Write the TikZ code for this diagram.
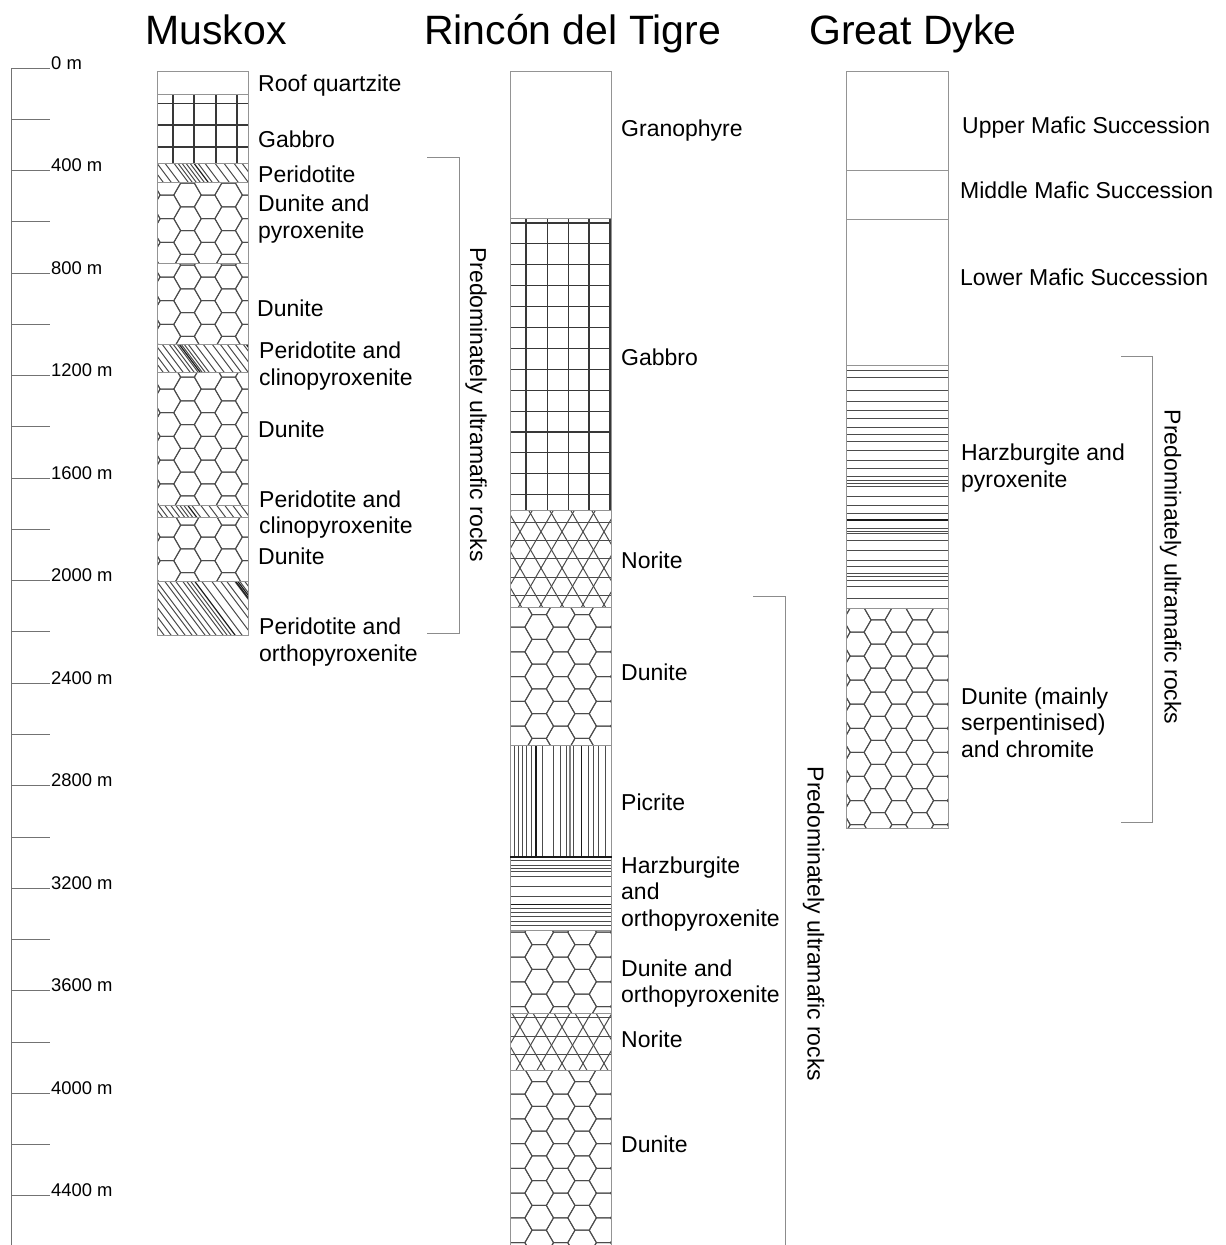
\documentclass[tikz,border=0pt]{standalone}
\usepackage{fontspec}
\setmainfont{Liberation Sans}
\newcommand\mls[1]{\begin{tabular}[t]{@{}l@{}}#1\end{tabular}}
% honeycomb fill: x1 y1 x2 y2 r xc yc
\newcommand\hexfill[7]{%
  \begin{scope}
    \clip (#1,#2) rectangle (#3,#4);
    \pgfmathsetmacro\hxr{#5}
    \pgfmathsetmacro\hxh{1.7320508*#5}
    \pgfmathtruncatemacro\hximin{floor((#1-#6)/(1.5*#5))-1}
    \pgfmathtruncatemacro\hximax{ceil((#3-#6)/(1.5*#5))+1}
    \pgfmathtruncatemacro\hxjmin{floor((#2-#7)/\hxh)-1}
    \pgfmathtruncatemacro\hxjmax{ceil((#4-#7)/\hxh)+1}
    \foreach \i in {\hximin,...,\hximax}{
      \foreach \j in {\hxjmin,...,\hxjmax}{
        \pgfmathsetmacro\hxcx{#6+1.5*#5*\i}
        \pgfmathsetmacro\hxcy{#7+\hxh*\j+((mod(\i+100,2)==1)?0.5*\hxh:0)}
        \draw[pat] ({\hxcx+\hxr},{\hxcy}) -- ({\hxcx+0.5*\hxr},{\hxcy+0.5*\hxh})
          -- ({\hxcx-0.5*\hxr},{\hxcy+0.5*\hxh}) -- ({\hxcx-\hxr},{\hxcy})
          -- ({\hxcx-0.5*\hxr},{\hxcy-0.5*\hxh}) -- ({\hxcx+0.5*\hxr},{\hxcy-0.5*\hxh}) -- cycle;
      }
    }
  \end{scope}}
% norite (triangular lattice): x1 y1 x2 y2 a x0 y0
\newcommand\noritefill[7]{%
  \begin{scope}
    \clip (#1,#2) rectangle (#3,#4);
    \pgfmathsetmacro\nda{0.57735*(#2-#7)}
    \pgfmathsetmacro\ndb{0.57735*(#4-#7)}
    \foreach \k in {-6,...,10}{
      \pgfmathsetmacro\nxa{#6+\k*#5}
      \draw[pat] ({\nxa+\nda},#2) -- ({\nxa+\ndb},#4);
      \draw[pat] ({\nxa-\nda},#2) -- ({\nxa-\ndb},#4);
    }
    \foreach \k in {-8,...,8}{
      \pgfmathsetmacro\nya{#7+0.4330127*#5+\k*0.8660254*#5}
      \draw[pat] (#1,\nya) -- (#3,\nya);
    }
  \end{scope}}
% diagonal hatch: x1 y1 x2 y2 {light offsets} {dark offsets}
\newcommand\diaghatch[6]{%
  \begin{scope}
    \clip (#1,#2) rectangle (#3,#4);
    \pgfmathsetmacro\dhs{0.75*#4-0.75*#2}
    \foreach \u in {#5}{\draw[pat] ({#1+\u},#2) -- ({#1+\u+\dhs},#4);}
    \foreach \u in {#6}{\draw[dark] ({#1+\u},#2) -- ({#1+\u+\dhs},#4);}
  \end{scope}}
\begin{document}
\begin{tikzpicture}[x=1pt,y=-1pt,
  outline/.style={draw=black!42,line width=1pt},
  pat/.style={draw=black!70,line width=1pt},
  gridl/.style={draw=black!78,line width=1.15pt},
  dark/.style={draw=black!90,line width=1.2pt},
  thickgray/.style={draw=black!50,line width=2.6pt},
  lbl/.style={anchor=base west,inner sep=0pt,font=\fontsize{23}{26.5}\selectfont},
  ttl/.style={anchor=base,inner sep=0pt,font=\fontsize{41}{48}\selectfont},
  scl/.style={anchor=base west,inner sep=0pt,font=\fontsize{18.4}{22}\selectfont},
  tickl/.style={draw=black!55,line width=1pt},
  brk/.style={draw=black!45,line width=1pt},
  rotl/.style={anchor=base,inner sep=0pt,rotate=-90,font=\fontsize{23}{26.5}\selectfont}]
\useasboundingbox (0,0) rectangle (1226,1245);

% ---------------- titles
\node[ttl] (t1) at (216,44) {Muskox};
\node[ttl] (t2) at (572.5,44) {Rincón del Tigre};
\node[ttl] (t3) at (913,44) {Great Dyke};

% ---------------- depth scale
\draw[tickl] (11,68) -- (11,1246);
\foreach \k in {0,...,22}{\draw[tickl] (11,{68+\k*51.27}) -- (50,{68+\k*51.27});}
\foreach \k/\t in {0/0 m,2/400 m,4/800 m,6/1200 m,8/1600 m,10/2000 m,12/2400 m,14/2800 m,16/3200 m,18/3600 m,20/4000 m,22/4400 m}{
  \node[scl] (s\k) at (51,{69+\k*51.27}) {\t};}

% ================= MUSKOX column (x 157 - 248.5)
\begin{scope}
  \clip (157,94.3) rectangle (248.5,163.3);
  \foreach \x in {173,194,216,237}{\draw[gridl] (\x,94.3) -- (\x,163.3);}
  \foreach \y in {103.3,125,147}{\draw[gridl] (157,\y) -- (248.5,\y);}
\end{scope}
\diaghatch{157}{163.3}{248.5}{182.3}{-14,-8,0,8,17,21,25,29,33,41,48,58,67,77,85}{37}
\hexfill{157}{182.3}{248.5}{263.3}{13.7}{187.5}{195}
\hexfill{157}{263.3}{248.5}{344}{13.7}{187.5}{277}
\diaghatch{157}{344}{248.5}{372.3}{-21,-15,-9,-2,5,12,16,20,24,27,31,38,46,55,63,70,78,86,90}{22,89}
\hexfill{157}{372.3}{248.5}{505.7}{13.7}{187.5}{389}
\diaghatch{157}{505.7}{248.5}{517.3}{-8,-3,2,8,14,19,23,27,35,44,52,60,68,76,84}{31}
\hexfill{157}{517.3}{248.5}{581.7}{13.7}{187.5}{537}
\diaghatch{157}{581.7}{248.5}{635.7}{-40,-33,-26,-19,-12,-5,0,8,13,19,26,30,34,45,55,64,70,78,83,88}{38,79,81}
\draw[outline] (157,71.7) rectangle (248.5,635.7);
\foreach \y in {94.3,163.3,182.3,263.3,344,372.3,505.7,517.3,581.7}{\draw[outline] (157,\y) -- (248.5,\y);}

% ================= RINCON column (x 510 - 611.7)
\begin{scope}
  \clip (510,218.3) rectangle (611.7,510);
  \foreach \x in {526,547.3,568.3,589,610}{\draw[gridl] (\x,218.3) -- (\x,510);}
  \foreach \k in {0,...,13}{\draw[gridl] (510,{223+\k*20.9}) -- (611.7,{223+\k*20.9});}
\end{scope}
\noritefill{510}{510}{611.7}{607.7}{21}{520}{531.7}
\hexfill{510}{607.7}{611.7}{745}{14.3}{539.2}{627}
\begin{scope}
  \clip (510,745) rectangle (611.7,856.7);
  \foreach \x in {514.3,518.3,522.3,526,531,542.7,553.3,560,566.7,573.3,588.3,593.3,598.3,605}{\draw[pat] (\x,745) -- (\x,856.7);}
  \foreach \x in {536,581.7}{\draw[dark] (\x,745) -- (\x,856.7);}
  \draw[thickgray] (570,745) -- (570,856.7);
\end{scope}
\begin{scope}
  \clip (510,856.7) rectangle (611.7,930);
  \foreach \y in {860.7,865,868.3,871.7,876.7,886.7,896.7,908.3,912.7,916.7,921.7,925}{\draw[pat] (510,\y) -- (611.7,\y);}
  \draw[dark] (510,904.3) -- (611.7,904.3);
\end{scope}
\hexfill{510}{930}{611.7}{1013.3}{14.3}{539.2}{957}
\noritefill{510}{1013.3}{611.7}{1070}{21}{520}{1027}
\hexfill{510}{1070}{611.7}{1246}{14.3}{539.2}{1094}
\draw[outline] (510,1246) -- (510,71) -- (611.7,71) -- (611.7,1246);
\foreach \y in {218.3,510,607.7,745,930,1013.3,1070}{\draw[outline] (510,\y) -- (611.7,\y);}
\draw[dark,line width=2pt] (510,856.7) -- (611.7,856.7);

% ================= GREAT DYKE column (x 846.7 - 948.3)
\begin{scope}
  \clip (846.7,365) rectangle (948.3,608.3);
  \foreach \y in {370,377.7,390,401.7,410,418.3,427.3,434.3,441.7,450,460,468.3,476.7,480,483.3,486.7,496.7,505,513.3,528.3,531.7,533.3,540,550,560,566.7,573.3,576.7,580,586.7,598.3}{\draw[pat] (846.7,\y) -- (948.3,\y);}
  \draw[dark] (846.7,520) -- (948.3,520);
\end{scope}
\hexfill{846.7}{608.3}{948.3}{828.3}{13.9}{878}{632}
\draw[outline] (846.7,71.7) rectangle (948.3,828.3);
\foreach \y in {170,219,365,608.3}{\draw[outline] (846.7,\y) -- (948.3,\y);}

% ---------------- labels Muskox
\node[lbl] (mrq) at (258,91.5) {Roof quartzite};
\node[lbl] (mgb) at (258,147) {Gabbro};
\node[lbl] (mpd) at (258,182.5) {Peridotite};
\node[lbl] (mdp) at (258,211.5) {\mls{Dunite and\\pyroxenite}};
\node[lbl] (md1) at (257,316) {Dunite};
\node[lbl] (mpc1) at (259,358.5) {\mls{Peridotite and\\clinopyroxenite}};
\node[lbl] (md2) at (258,437.5) {Dunite};
\node[lbl] (mpc2) at (259,507) {\mls{Peridotite and\\clinopyroxenite}};
\node[lbl] (md3) at (258,564) {Dunite};
\node[lbl] (mpo) at (259,634.5) {\mls{Peridotite and\\orthopyroxenite}};

% ---------------- labels Rincon
\node[lbl] (rgr) at (621,136.5) {Granophyre};
\node[lbl] (rgb) at (621,365.5) {Gabbro};
\node[lbl] (rn1) at (621,568) {Norite};
\node[lbl] (rd1) at (621,680) {Dunite};
\node[lbl] (rpc) at (621,810.5) {Picrite};
\node[lbl] (rhz) at (621,873) {\mls{Harzburgite\\and\\orthopyroxenite}};
\node[lbl] (rdo) at (621,976) {\mls{Dunite and\\orthopyroxenite}};
\node[lbl] (rn2) at (621,1047) {Norite};
\node[lbl] (rd2) at (621,1152) {Dunite};

% ---------------- labels Great Dyke
\node[lbl] (gu) at (962,133.5) {Upper Mafic Succession};
\node[lbl] (gm) at (960,198.5) {Middle Mafic Succession};
\node[lbl] (gl) at (960,285.5) {Lower Mafic Succession};
\node[lbl] (ghz) at (961,460.5) {\mls{Harzburgite and\\pyroxenite}};
\node[lbl] (gdn) at (961,704) {\mls{Dunite (mainly\\serpentinised)\\and chromite}};

% ---------------- brackets
\coordinate (mb1) at (427.3,157.5);
\coordinate (mb2) at (459.3,157.5);
\coordinate (mb3) at (459.3,633.3);
\coordinate (mb4) at (427.3,633.3);
\draw[brk] (mb1) -- (mb2) -- (mb3) -- (mb4);
\node[rotl] (mtxt) at (470,404.5) {Predominately ultramafic rocks};

\coordinate (rb1) at (753.3,596.7);
\coordinate (rb2) at (785,596.7);
\coordinate (rb3) at (785,1246);
\draw[brk] (rb1) -- (rb2) -- (rb3);
\node[rotl] (rtxt) at (807.5,924) {Predominately ultramafic rocks};

\coordinate (gb1) at (1121,356);
\coordinate (gb2) at (1152.7,356);
\coordinate (gb3) at (1152.7,822.3);
\coordinate (gb4) at (1121,822.3);
\draw[brk] (gb1) -- (gb2) -- (gb3) -- (gb4);
\node[rotl] (gtxt) at (1164.5,567.2) {Predominately ultramafic rocks};
\end{tikzpicture}
\end{document}
